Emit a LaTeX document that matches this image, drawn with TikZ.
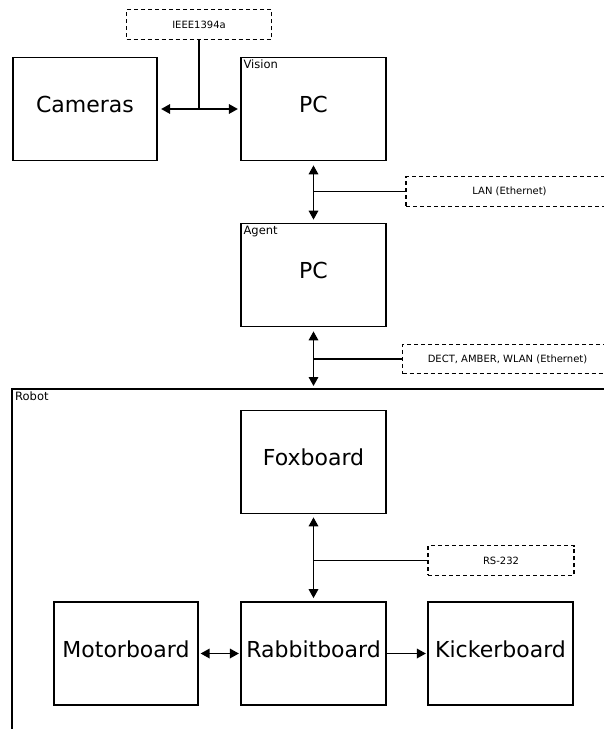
\documentclass[tikz,border=0pt]{standalone}
\usepackage{fontspec}
\setmainfont{DejaVu Sans}
\usetikzlibrary{arrows.meta}

\begin{document}
\begin{tikzpicture}[x=1pt, y=-1pt, >={Triangle[length=9pt,width=9.5pt]},
    unit/.style={draw, line width=1.7pt, minimum width=144.5pt, minimum height=103pt, inner sep=0pt,
      text depth=9pt, font=\fontsize{22}{26}\selectfont},
    bus/.style={draw, line width=1.2pt, dash pattern=on 4pt off 3pt, minimum height=29.5pt, inner sep=0pt,
      font=\fontsize{10}{12}\selectfont},
    tag/.style={anchor=north west, inner sep=3pt, font=\fontsize{11.5}{13}\selectfont},
    link/.style={line width=1.7pt}]
  \useasboundingbox (0,0) rectangle (604,729);
  % vision system
  \node (cameras) [unit] at (85,109) {Cameras};
  \node (vision) [unit, label={[tag]north west:Vision}] at (313.5,109) {PC};
  \node (ieee) [bus, minimum width=145pt] at (199,24.5) {IEEE1394a};
  \draw [<->, link, shorten <=3pt, shorten >=2.5pt] (cameras.east) -- (vision.west);
  \draw [link] (ieee.south) -- (ieee.south |- cameras.east);
  % agent
  \node (agent) [unit, label={[tag]north west:Agent}] at (313.5,275) {PC};
  \node (lan) [bus, minimum width=207pt] at (509.5,191.5) {LAN (Ethernet)};
  \draw [<->, link, shorten <=4pt, shorten >=3pt] (vision.south) -- (agent.north);
  \draw [link] (lan.west) -- (vision.south |- lan.west);
  % robot frame
  \coordinate (robotnw) at (12,389);
  \draw [link] (12,735) -- (robotnw) -- (612,389);
  \node (robot) [tag] at (robotnw) {Robot};
  \node (dect) [bus, minimum width=210pt] at (507.5,359) {DECT, AMBER, WLAN (Ethernet)};
  \draw [<->, link, shorten <=4pt, shorten >=3pt] (agent.south) -- (agent.south |- robotnw);
  \draw [link] (dect.west) -- (agent.south |- dect.west);
  % boards
  \node (fox) [unit] at (313.5,462) {Foxboard};
  \node (rabbit) [unit] at (313.5,653.5) {Rabbitboard};
  \node (motor) [unit] at (126,653.5) {Motorboard};
  \node (kicker) [unit] at (500.5,653.5) {Kickerboard};
  \node (rs) [bus, minimum width=146pt] at (501,560.5) {RS-232};
  \draw [<->, link, shorten <=3pt, shorten >=3pt] (fox.south) -- (rabbit.north);
  \draw [link] (rs.west) -- (fox.south |- rs.west);
  \draw [<->, link, shorten <=1.5pt, shorten >=1.5pt] (motor.east) -- (rabbit.west);
  \draw [->, link, shorten >=1.5pt] (rabbit.east) -- (kicker.west);
\end{tikzpicture}
\end{document}
